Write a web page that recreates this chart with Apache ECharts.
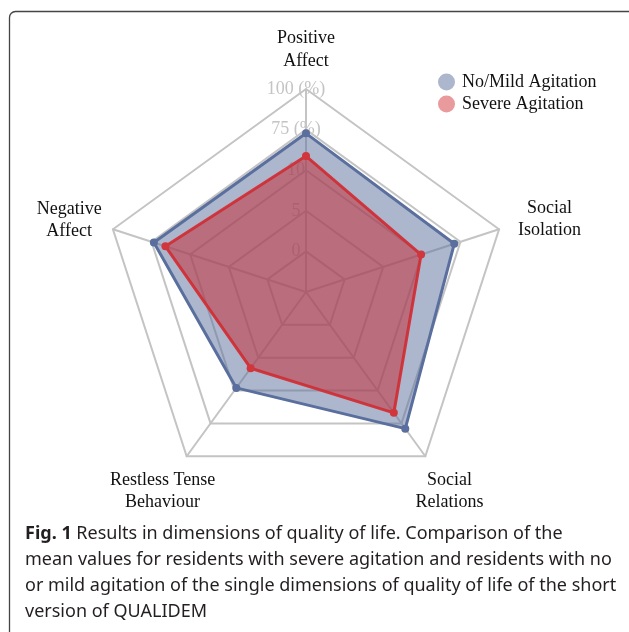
<!DOCTYPE html>
<html>
<head>
<meta charset="utf-8">
<script src="https://cdn.jsdelivr.net/npm/echarts@6/dist/echarts.min.js"></script>
<style>
  html, body { margin: 0; padding: 0; background: #fff; }
  #chart { width: 629px; height: 632px; }
</style>
</head>
<body>
<div id="chart"></div>
<script>
// Indicators in ECharts order (counter-clockwise from top)
var indicatorNames = ['Positive\nAffect', 'Negative\nAffect', 'Restless Tense\nBehaviour', 'Social\nRelations', 'Social\nIsolation'];
// Radial scale: rings at -25, 0, 25, 50, 75, 100
var scaleMin = -25;
var scaleMax = 100;
// Tick labels as printed in the figure, for rings 1..5 (centre has none)
var tickValues = [0, 25, 50, 75, 100];
var tickLabels = ['0', '5', '10', '75 (%)', '100 (%)'];
var seriesNames = ['No/Mild Agitation', 'Severe Agitation'];
var noMildValues = [72.7, 73.5, 48, 79, 71];
var severeValues = [58.7, 66, 33, 67, 49.5];
var captionBold = 'Fig. 1';
var captionText = ' Results in dimensions of quality of life. Comparison of the\nmean values for residents with severe agitation and residents with no\nor mild agitation of the single dimensions of quality of life of the short\nversion of QUALIDEM';

var serif = '"Liberation Serif", "Times New Roman", serif';
var sans = '"Noto Sans", "Open Sans", sans-serif';

// per-indicator name placement (gap from vertex, downward nudge)
var nameGaps = [41, 46, 41, 41, 53];
var nameShift = [0, 6, 0, 0, 9];

var indicators = indicatorNames.map(function (n, i) {
  var ind = {
    name: n, min: scaleMin, max: scaleMax, nameGap: nameGaps[i],
    nameTextStyle: { align: 'center', verticalAlign: 'middle' }
  };
  if (i === 0) {
    ind.axisLabel = { show: true };
  }
  return ind;
});

var nameRich = { n: { fontFamily: serif, fontSize: 18, color: '#111', lineHeight: 22.5, verticalAlign: 'bottom' } };
nameShift.forEach(function (s) {
  nameRich['f' + s] = { fontFamily: serif, fontSize: 18, color: '#111', lineHeight: 22 + s, verticalAlign: 'bottom' };
});

var chart = echarts.init(document.getElementById('chart'), null, { renderer: 'canvas' });
chart.setOption({
  backgroundColor: '#fff',
  animation: false,
  graphic: [{
    type: 'rect',
    shape: { x: 9.5, y: 11.5, width: 800, height: 800, r: 6 },
    style: { fill: 'none', stroke: '#444', lineWidth: 1.3 },
    z: -10
  }],
  title: {
    text: '{b|' + captionBold + '}' + captionText,
    left: 25,
    top: 521,
    padding: 0,
    textStyle: {
      fontFamily: sans, fontSize: 18, fontWeight: 'normal', color: '#231f20', lineHeight: 26,
      rich: {
        b: { fontFamily: sans, fontSize: 18, fontWeight: 'bold', color: '#231f20', lineHeight: 26 }
      }
    }
  },
  legend: {
    orient: 'vertical',
    left: 438,
    top: 73,
    itemWidth: 17,
    itemHeight: 17,
    itemGap: 4,
    padding: 0,
    icon: 'circle',
    textStyle: { fontFamily: serif, fontSize: 18, color: '#111', padding: [0, 0, 0, 2] },
    data: [
      { name: seriesNames[0], itemStyle: { color: '#acb6cd' } },
      { name: seriesNames[1], itemStyle: { color: '#e89a9c' } }
    ]
  },
  radar: {
    center: [306, 292],
    radius: 203,
    startAngle: 90,
    splitNumber: 5,
    shape: 'polygon',
    indicator: indicators,
    axisName: {
      fontFamily: serif, fontSize: 18, color: '#111', lineHeight: 22,
      rich: nameRich,
      formatter: function (name) {
        var i = indicatorNames.indexOf(name);
        var s = i >= 0 ? nameShift[i] : 0;
        var parts = name.split('\n');
        return '{f' + s + '|' + parts[0] + '}\n{n|' + parts[1] + '}';
      }
    },
    axisLine: { show: true, lineStyle: { color: '#c4c4c4', width: 2 } },
    splitLine: { show: true, lineStyle: { color: '#c4c4c4', width: 2 } },
    splitArea: { show: false },
    axisTick: { show: false },
    axisLabel: {
      show: false,
      margin: 10,
      align: 'center',
      verticalAlign: 'middle',
      fontFamily: serif,
      fontSize: 18,
      color: '#c4c4c4',
      showMinLabel: true,
      formatter: function (v) {
        var k = tickValues.indexOf(Math.round(v));
        return k >= 0 ? tickLabels[k] : '';
      }
    }
  },
  series: [{
    type: 'radar',
    symbol: 'circle',
    symbolSize: 8,
    data: [
      {
        name: seriesNames[0],
        value: noMildValues,
        itemStyle: { color: '#5a6f9d' },
        lineStyle: { color: '#5a6f9d', width: 3 },
        areaStyle: { color: 'rgba(90,111,157,0.5)', opacity: 1 }
      },
      {
        name: seriesNames[1],
        value: severeValues,
        itemStyle: { color: '#d2363d' },
        lineStyle: { color: '#d2363d', width: 3 },
        areaStyle: { color: 'rgba(196,50,58,0.55)', opacity: 1 }
      }
    ]
  }]
});
</script>
</body>
</html>
